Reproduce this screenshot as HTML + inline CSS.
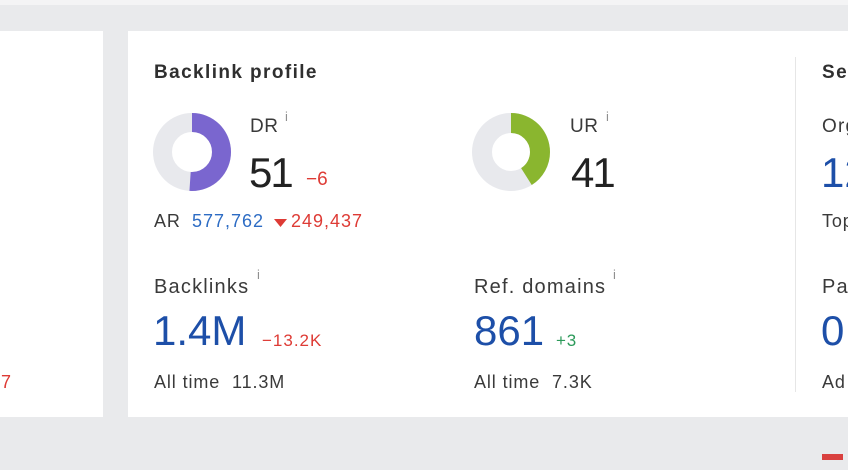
<!DOCTYPE html>
<html><head><meta charset="utf-8"><style>
html,body{margin:0;padding:0;}
body{width:848px;height:470px;position:relative;overflow:hidden;background:#e9eaec;font-family:"Liberation Sans",Arial,sans-serif;}
.t{position:absolute;line-height:1;white-space:nowrap;}
.card{position:absolute;background:#fff;}
.lbl{color:#3a3a3a;font-size:20px;letter-spacing:1.2px;}
.sup{color:#8f8f8f;font-size:13px;}
.big{font-size:42px;color:#222;}
.blue{color:#1d4fa8;}
.red{color:#de3b35;}
.sm{font-size:18px;color:#3a3a3a;letter-spacing:0.9px;}
</style></head><body>
<div style="position:absolute;left:0;top:0;width:848px;height:5px;background:#f4f4f5"></div>
<div class="card" style="left:0;top:31px;width:103px;height:386px"></div>
<div class="card" style="left:128px;top:31px;width:720px;height:386px"></div>
<div style="position:absolute;left:795px;top:57px;width:1px;height:335px;background:#e6e6e6"></div>

<div class="t red" style="left:1px;top:373px;font-size:18px">7</div>

<div class="t" style="left:154px;top:63px;font-size:19px;font-weight:bold;color:#2f2f2f;letter-spacing:1.4px">Backlink profile</div>

<svg style="position:absolute;left:0;top:0" width="848" height="470">
  <circle cx="192" cy="152" r="29.5" fill="none" stroke="#e8e9ed" stroke-width="19"/>
  <circle cx="192" cy="152" r="29.5" fill="none" stroke="#7a66cf" stroke-width="19" stroke-dasharray="94.5 200" transform="rotate(-90 192 152)"/>
  <circle cx="511" cy="152" r="29" fill="none" stroke="#e8e9ed" stroke-width="20"/>
  <circle cx="511" cy="152" r="29" fill="none" stroke="#8ab62f" stroke-width="20" stroke-dasharray="74.7 200" transform="rotate(-90 511 152)"/>
  <polygon points="274,219 287,219 280.5,227" fill="#de3b35"/>
  <rect x="822" y="454" width="21" height="6" fill="#d9413f"/>
</svg>

<div class="t lbl" style="left:250px;top:117px;font-size:19px;letter-spacing:0.5px">DR</div>
<div class="t sup" style="left:285px;top:110px">i</div>
<div class="t big" style="left:249px;top:152px;letter-spacing:-2px">51</div>
<div class="t red" style="left:306px;top:170px;font-size:19px">&minus;6</div>
<div class="t sm" style="left:154px;top:212px">AR</div>
<div class="t" style="left:192px;top:212px;font-size:18px;color:#2d6cc4;letter-spacing:1px">577,762</div>
<div class="t red" style="left:291px;top:212px;font-size:18px;letter-spacing:1px">249,437</div>

<div class="t lbl" style="left:570px;top:117px;font-size:19px;letter-spacing:0.5px">UR</div>
<div class="t sup" style="left:606px;top:110px">i</div>
<div class="t big" style="left:571px;top:152px;letter-spacing:-2px">41</div>

<div class="t lbl" style="left:154px;top:277px">Backlinks</div>
<div class="t sup" style="left:257px;top:268px">i</div>
<div class="t big blue" style="left:153px;top:310px">1.4M</div>
<div class="t red" style="left:262px;top:332px;font-size:17px;letter-spacing:1px">&minus;13.2K</div>
<div class="t sm" style="left:154px;top:373px">All time&nbsp; 11.3M</div>

<div class="t lbl" style="left:474px;top:277px">Ref. domains</div>
<div class="t sup" style="left:613px;top:268px">i</div>
<div class="t big blue" style="left:474px;top:310px">861</div>
<div class="t" style="left:556px;top:332px;font-size:17px;color:#2c9a5a;letter-spacing:0.8px">+3</div>
<div class="t sm" style="left:474px;top:373px">All time&nbsp; 7.3K</div>

<div class="t" style="left:822px;top:63px;font-size:19px;font-weight:bold;color:#2f2f2f;letter-spacing:1.4px">Se</div>
<div class="t lbl" style="left:822px;top:117px;font-size:19px">Org</div>
<div class="t big blue" style="left:821px;top:152px">12</div>
<div class="t sm" style="left:822px;top:212px">Top</div>
<div class="t lbl" style="left:822px;top:277px">Pa</div>
<div class="t big blue" style="left:821px;top:310px">0</div>
<div class="t sm" style="left:822px;top:373px">Ad</div>
</body></html>
